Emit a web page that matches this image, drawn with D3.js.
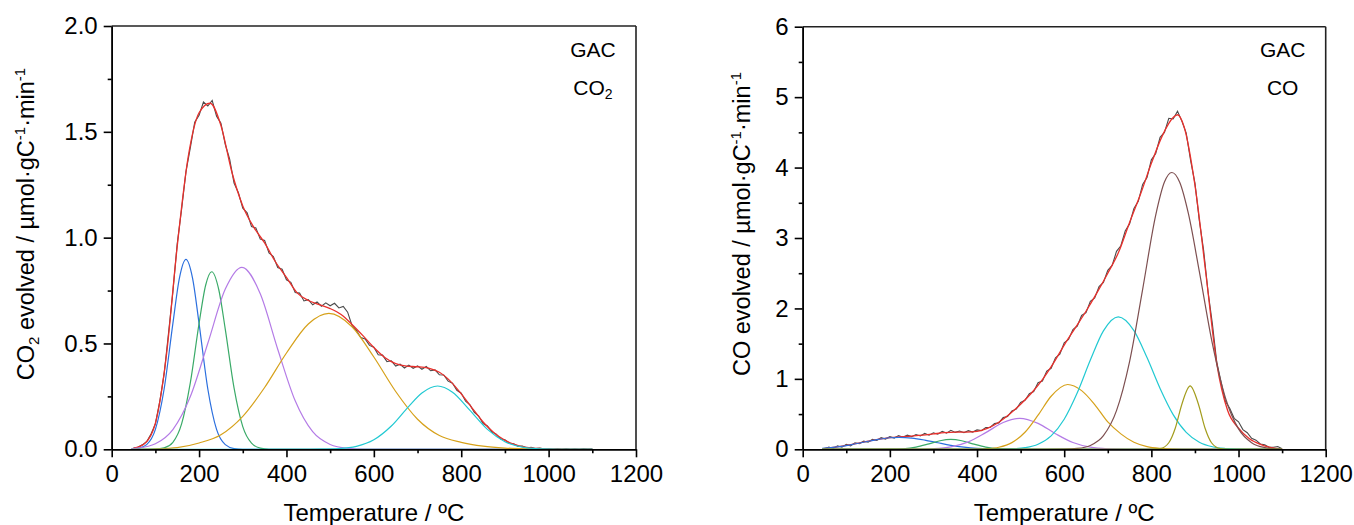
<!DOCTYPE html>
<html>
<head>
<meta charset="utf-8">
<script src="https://cdn.jsdelivr.net/npm/d3@7"></script>
<style>
  body { margin: 0; background: #fff; }
  text { font-family: "Liberation Sans", Arial, sans-serif; fill: #000; }
</style>
</head>
<body>
<div id="chart"></div>
<script>
// tick labels
var xTicks = [0, 200, 400, 600, 800, 1000, 1200];
var xMinor = [100, 300, 500, 700, 900, 1100];
var co2YTicks = [0, 0.5, 1.0, 1.5, 2.0];
var co2YMinor = [0.25, 0.75, 1.25, 1.75];
var coYTicks = [0, 1, 2, 3, 4, 5, 6];
var coYMinor = [0.5, 1.5, 2.5, 3.5, 4.5, 5.5];

// measured signal, every 10 ºC from 50 to 1100
var measTemps = d3.range(50, 1101, 10);
var co2Measured = [
  0.006,0.010,0.021,0.036,0.072,0.120,0.226,0.356,0.548,0.744,
  0.972,1.134,1.312,1.425,1.545,1.578,1.641,1.622,1.648,1.574,
  1.541,1.440,1.371,1.258,1.212,1.139,1.117,1.052,1.046,0.993,
  0.987,0.928,0.911,0.859,0.851,0.801,0.789,0.741,0.738,0.701,
  0.707,0.683,0.696,0.676,0.692,0.678,0.690,0.668,0.675,0.648,
  0.585,0.562,0.528,0.521,0.491,0.482,0.447,0.445,0.414,0.418,
  0.393,0.402,0.384,0.398,0.383,0.394,0.378,0.391,0.371,0.375,
  0.352,0.351,0.322,0.312,0.279,0.265,0.227,0.210,0.174,0.157,
  0.122,0.110,0.082,0.071,0.049,0.045,0.028,0.026,0.014,0.015,
  0.006,0.009,0.003,0.006,0.001,0.004,0.000,0.003,0.000,0.003,
  0.000,0.002,0.000,0.003,0.001,0.002
];
var coMeasured = [
  0.005,0.03,0.012,0.048,0.03,0.07,0.05,0.092,0.08,0.115,
  0.1,0.14,0.125,0.165,0.145,0.18,0.16,0.195,0.17,0.2,
  0.18,0.21,0.19,0.225,0.2,0.235,0.215,0.255,0.23,0.27,
  0.24,0.26,0.235,0.265,0.245,0.275,0.265,0.31,0.31,0.365,
  0.375,0.45,0.465,0.545,0.57,0.665,0.695,0.79,0.82,0.945,
  0.97,1.11,1.15,1.3,1.35,1.51,1.56,1.7,1.75,1.9,
  1.94,2.1,2.15,2.31,2.37,2.54,2.61,2.81,2.89,3.1,
  3.2,3.42,3.52,3.76,3.86,4.11,4.2,4.43,4.5,4.7,
  4.69,4.8,4.66,4.49,4.1,3.78,3.25,2.82,2.24,1.78,
  1.24,0.95,0.68,0.58,0.44,0.39,0.28,0.235,0.155,0.13,
  0.075,0.065,0.028,0.03,0.04,0.008
];

// cumulative fit (red)
var co2FitTemps = [50,75,100,125,150,175,200,225,250,275,300,325,350,375,400,425,450,475,500,525,550,575,600,625,650,675,700,725,750,775,800,825,850,875,900,925,950,975,1000,1025,1050,1075,1100];
var co2FitValues = [0.005,0.026,0.123,0.44,0.96,1.38,1.59,1.635,1.53,1.31,1.15,1.05,0.975,0.885,0.812,0.738,0.703,0.684,0.665,0.637,0.59,0.537,0.481,0.434,0.405,0.393,0.39,0.383,0.364,0.322,0.262,0.195,0.129,0.078,0.042,0.021,0.009,0.004,0.0015,0.0005,0,0,0];
var coFitTemps = [50,75,100,125,150,175,200,225,250,275,300,325,350,375,400,425,450,475,500,525,550,575,600,625,650,675,700,725,750,775,800,825,850,860,875,900,925,950,975,1000,1025,1050,1075,1100];
var coFitValues = [0.012,0.03,0.055,0.085,0.115,0.143,0.165,0.178,0.188,0.2,0.218,0.236,0.245,0.245,0.255,0.3,0.385,0.5,0.64,0.8,0.99,1.22,1.48,1.72,1.96,2.22,2.5,2.8,3.22,3.62,4.06,4.45,4.71,4.75,4.58,3.75,2.5,1.22,0.55,0.3,0.15,0.07,0.025,0.005];

// deconvoluted peaks, [temperature, value]
var co2Peak1 = [[45,0],[60,0.0035],[80,0.022],[100,0.094],[120,0.285],[140,0.594],[155,0.809],[170,0.897],[185,0.809],[200,0.594],[220,0.285],[240,0.094],[260,0.022],[280,0.0035],[300,0],[1100,0]];
var co2Peak2 = [[45,0],[100,0.001],[120,0.0066],[140,0.033],[160,0.120],[180,0.315],[200,0.595],[215,0.775],[229,0.839],[245,0.755],[260,0.567],[280,0.290],[300,0.107],[320,0.029],[340,0.0055],[360,0],[1100,0]];
var co2Peak3 = [[45,0.003],[60,0.0056],[100,0.026],[140,0.093],[180,0.249],[220,0.501],[260,0.757],[298,0.86],[340,0.735],[380,0.473],[420,0.229],[460,0.083],[500,0.023],[540,0.0047],[580,0],[1100,0]];
var co2Peak4 = [[45,0],[100,0.002],[150,0.008],[200,0.03],[250,0.069],[300,0.156],[350,0.292],[400,0.455],[450,0.592],[497,0.642],[550,0.579],[600,0.436],[650,0.273],[700,0.142],[750,0.065],[800,0.033],[850,0.015],[900,0.006],[950,0.002],[1000,0],[1100,0]];
var co2Peak5 = [[45,0],[440,0],[480,0.0006],[520,0.0032],[560,0.0138],[600,0.045],[640,0.110],[680,0.203],[710,0.266],[746,0.299],[780,0.270],[820,0.184],[860,0.094],[900,0.036],[940,0.0106],[980,0.0023],[1020,0],[1100,0]];

var coPeak1 = [[45,0.015],[80,0.035],[110,0.064],[140,0.1006],[170,0.138],[200,0.164],[222,0.17],[250,0.16],[280,0.131],[310,0.093],[340,0.057],[370,0.031],[400,0.0143],[430,0.0058],[460,0.002],[500,0],[1100,0]];
var coPeak2 = [[45,0],[170,0],[200,0.0014],[230,0.008],[260,0.031],[290,0.078],[315,0.121],[340,0.14],[365,0.121],[390,0.078],[420,0.031],[450,0.008],[480,0.0014],[510,0],[1100,0]];
var coPeak3 = [[45,0],[260,0],[300,0.008],[340,0.0345],[380,0.106],[420,0.2365],[460,0.38],[498,0.44],[540,0.368],[580,0.2215],[620,0.0963],[660,0.0302],[700,0.007],[740,0.001],[780,0],[1100,0]];
var coPeak4 = [[45,0],[390,0],[420,0.0068],[450,0.0287],[480,0.0945],[510,0.242],[540,0.484],[570,0.753],[608,0.92],[640,0.833],[670,0.635],[700,0.388],[730,0.219],[760,0.099],[790,0.0377],[820,0.012],[850,0.0032],[880,0.0007],[910,0],[1100,0]];
var coPeak5 = [[45,0],[450,0],[480,0.006],[510,0.0227],[540,0.0718],[570,0.191],[600,0.427],[630,0.802],[660,1.267],[690,1.682],[724,1.88],[760,1.685],[790,1.302],[820,0.864],[850,0.493],[880,0.241],[910,0.1015],[940,0.0367],[970,0.0114],[1000,0.003],[1030,0],[1100,0]];
var coPeak6 = [[45,0],[560,0],[600,0.0023],[630,0.0125],[660,0.055],[690,0.194],[720,0.549],[750,1.246],[780,2.272],[810,3.325],[830,3.794],[847,3.93],[865,3.791],[885,3.345],[910,2.526],[940,1.5],[970,0.729],[1000,0.29],[1030,0.094],[1060,0.025],[1090,0.0055],[1100,0.003]];
var coPeak7 = [[45,0],[790,0],[820,0.01],[840,0.093],[855,0.302],[870,0.64],[889,0.9],[908,0.64],[923,0.302],[938,0.093],[958,0.01],[980,0],[1100,0]];
var coPeak8 = [[45,0],[1100,0]];

var co2Colors = ["#2b6fde", "#3aaa68", "#b47be6", "#d6a11a", "#21c9d2"];
var coColors = ["#2b6fde", "#3aaa68", "#b47be6", "#d6a11a", "#21c9d2", "#7d4f50", "#a39c1c", "#6f9a36"];

var svg = d3.select("#chart")
  .append("svg")
    .attr("width", 1354)
    .attr("height", 525);

function drawPanel(p) {
  var x = d3.scaleLinear().domain([0, 1200]).range([p.x0, p.x1]);
  var y = d3.scaleLinear().domain([0, p.yMax]).range([p.y0, p.y1]);
  var g = svg.append("g");

  var smooth = d3.line()
    .x(function(d) { return x(d[0]); })
    .y(function(d) { return y(d[1]); })
    .curve(d3.curveMonotoneX);
  var raw = d3.line()
    .x(function(d) { return x(d[0]); })
    .y(function(d) { return y(d[1]); });

  // measured signal
  g.append("path")
    .datum(measTemps.map(function(t, i) { return [t, p.measured[i]]; }))
    .attr("fill", "none")
    .attr("stroke", "#4a4a4a")
    .attr("stroke-width", 1.1)
    .attr("d", raw);

  // cumulative fit
  g.append("path")
    .datum(p.fitT.map(function(t, i) { return [t, p.fitV[i]]; }))
    .attr("fill", "none")
    .attr("stroke", "#e8302c")
    .attr("stroke-width", 1.3)
    .attr("d", smooth);

  // peaks
  p.peaks.forEach(function(pk, i) {
    g.append("path")
      .datum(pk)
      .attr("fill", "none")
      .attr("stroke", p.colors[i])
      .attr("stroke-width", 1.2)
      .attr("d", smooth);
  });

  // frame top and right
  g.append("line")
    .attr("x1", p.x0).attr("x2", p.x1).attr("y1", p.y1).attr("y2", p.y1)
    .attr("stroke", "#222").attr("stroke-width", 1.6);
  g.append("line")
    .attr("x1", p.x1).attr("x2", p.x1).attr("y1", p.y1).attr("y2", p.y0)
    .attr("stroke", "#222").attr("stroke-width", 1.6);

  // X axis
  g.append("g")
    .attr("transform", "translate(0," + p.y0 + ")")
    .call(d3.axisBottom(x).tickValues(xTicks).tickSize(8).tickSizeOuter(0).tickPadding(8).tickFormat(d3.format("d")));
  g.append("g")
    .attr("transform", "translate(0," + p.y0 + ")")
    .call(d3.axisBottom(x).tickValues(xMinor).tickSize(4).tickSizeOuter(0).tickFormat(""));

  // Y axis
  g.append("g")
    .attr("transform", "translate(" + p.x0 + ",0)")
    .call(d3.axisLeft(y).tickValues(p.yTicks).tickSize(8).tickSizeOuter(0).tickPadding(6).tickFormat(p.yFormat));
  g.append("g")
    .attr("transform", "translate(" + p.x0 + ",0)")
    .call(d3.axisLeft(y).tickValues(p.yMinor).tickSize(4).tickSizeOuter(0).tickFormat(""));

  g.selectAll(".domain, .tick line")
    .attr("stroke", "#000")
    .attr("stroke-width", 1.6);
  g.selectAll(".tick text")
    .attr("font-family", "Liberation Sans, Arial, sans-serif")
    .attr("font-size", 24)
    .attr("fill", "#000");

  // x title
  g.append("text")
    .attr("x", (p.x0 + p.x1) / 2)
    .attr("y", 521)
    .attr("text-anchor", "middle")
    .attr("font-size", 24)
    .text("Temperature / ºC");

  // y title
  var yt = g.append("text")
    .attr("transform", "translate(" + p.titleX + ",224) rotate(-90)")
    .attr("text-anchor", "middle")
    .attr("font-size", 23.5);
  yt.append("tspan").text("CO");
  if (p.sub) {
    yt.append("tspan").attr("font-size", 15).attr("dy", 5).text(p.sub);
    yt.append("tspan").attr("dy", -5).text(" evolved / µmol·gC");
  } else {
    yt.append("tspan").text(" evolved / µmol·gC");
  }
  yt.append("tspan").attr("font-size", 15).attr("dy", -9).text("-1");
  yt.append("tspan").attr("dy", 9).text("·min");
  yt.append("tspan").attr("font-size", 15).attr("dy", -9).text("-1");

  // labels in the corner
  var lx = p.x1 - 43;
  g.append("text")
    .attr("x", lx).attr("y", 57)
    .attr("text-anchor", "middle")
    .attr("font-size", 21)
    .text("GAC");
  var l2 = g.append("text")
    .attr("x", lx).attr("y", 95)
    .attr("text-anchor", "middle")
    .attr("font-size", 21);
  l2.append("tspan").text("CO");
  if (p.sub) l2.append("tspan").attr("font-size", 14).attr("dy", 4).text(p.sub);
}

drawPanel({
  x0: 111.7, x1: 636, y0: 449.3, y1: 26,
  yMax: 2, yTicks: co2YTicks, yMinor: co2YMinor, yFormat: d3.format(".1f"),
  measured: co2Measured, fitT: co2FitTemps, fitV: co2FitValues,
  peaks: [co2Peak1, co2Peak2, co2Peak3, co2Peak4, co2Peak5], colors: co2Colors,
  titleX: 33.5, sub: "2"
});

drawPanel({
  x0: 802.7, x1: 1325.7, y0: 449.3, y1: 26.7,
  yMax: 6, yTicks: coYTicks, yMinor: coYMinor, yFormat: d3.format("d"),
  measured: coMeasured, fitT: coFitTemps, fitV: coFitValues,
  peaks: [coPeak1, coPeak2, coPeak3, coPeak4, coPeak5, coPeak6, coPeak7, coPeak8], colors: coColors,
  titleX: 750, sub: null
});
</script>
</body>
</html>
